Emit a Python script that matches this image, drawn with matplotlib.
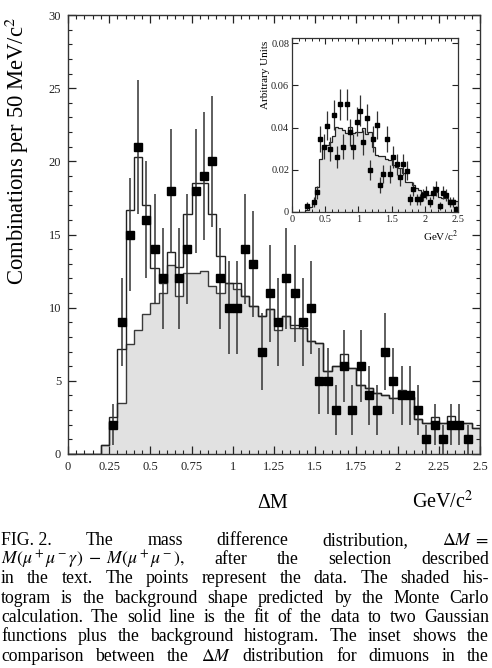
import matplotlib
matplotlib.use('agg')
import matplotlib.pyplot as plt
from matplotlib.ticker import MultipleLocator, FuncFormatter
import numpy as np

plt.rcParams['font.family'] = ['Liberation Serif', 'DejaVu Serif']
plt.rcParams['mathtext.fontset'] = 'stix'

# ---- main plot data (50 MeV bins from 0 to 2.5 GeV) ----
edges = np.linspace(0, 2.5, 51)

# background (shaded histogram)
background = [0, 0, 0, 0, 0.6, 2.2, 3.5, 7.5, 8.5, 9.6,
              10.3, 11.0, 12.9, 10.8, 12.4, 12.4, 12.5, 11.5, 11.0, 11.7,
              11.3, 10.8, 10.1, 9.4, 9.9, 8.5, 9.4, 8.6, 8.6, 7.7,
              7.6, 5.7, 6.0, 6.0, 5.9, 4.7, 4.5, 4.2, 4.0, 3.85,
              3.9, 3.9, 2.4, 2.1, 2.1, 2.1, 2.1, 2.1, 2.1, 1.8]

# fit = background + two gaussians (solid line)
fit = [0, 0, 0, 0, 0.6, 2.5, 7.2, 16.7, 20.3, 17.0,
       12.7, 11.7, 13.8, 12.8, 16.4, 18.5, 18.5, 16.4, 13.5, 11.7,
       11.7, 10.8, 10.1, 9.4, 9.9, 9.2, 9.4, 8.8, 8.6, 7.7,
       7.6, 5.7, 6.0, 6.8, 5.9, 4.7, 4.5, 4.2, 4.0, 3.85,
       4.4, 3.9, 2.4, 2.1, 2.5, 2.1, 2.6, 2.1, 2.1, 1.8]

# data points
data_x = [0.275, 0.325, 0.375, 0.425, 0.475, 0.525, 0.575, 0.625, 0.675, 0.725,
          0.775, 0.825, 0.875, 0.925, 0.975, 1.025, 1.075, 1.125, 1.175, 1.225,
          1.275, 1.325, 1.375, 1.425, 1.475, 1.525, 1.575, 1.625, 1.675, 1.725,
          1.775, 1.825, 1.875, 1.925, 1.975, 2.025, 2.075, 2.125, 2.175, 2.225,
          2.275, 2.325, 2.375, 2.425]
data_y = [2, 9, 15, 21, 16, 14, 12, 18, 12, 14,
          18, 19, 20, 12, 10, 10, 14, 13, 7, 11,
          9, 12, 11, 9, 10, 5, 5, 3, 6, 3,
          6, 4, 3, 7, 5, 4, 4, 3, 1, 2,
          1, 2, 2, 1]

# ---- inset data ----
inset_bg = [0, 0, 0, 0, 0.001, 0.0025, 0.0045, 0.012, 0.025, 0.031,
            0.032, 0.033, 0.036, 0.0405, 0.040, 0.039, 0.0375, 0.0405, 0.0375, 0.038,
            0.038, 0.040, 0.037, 0.038, 0.031, 0.027, 0.0266, 0.0266, 0.025, 0.0247,
            0.0223, 0.0215, 0.0207, 0.0183, 0.0144, 0.0144, 0.0128, 0.0112, 0.0105, 0.0097,
            0.0081, 0.0081, 0.0097, 0.0097, 0.0073, 0.0065, 0.0065, 0.0057, 0.0057, 0.005]

inset_x = [0.225, 0.325, 0.375, 0.425, 0.475, 0.525, 0.575, 0.625, 0.675, 0.725,
           0.775, 0.825, 0.875, 0.925, 0.975, 1.025, 1.075, 1.125, 1.175, 1.225,
           1.275, 1.325, 1.375, 1.425, 1.475, 1.525, 1.575, 1.625, 1.675, 1.725,
           1.775, 1.825, 1.875, 1.925, 1.975, 2.025, 2.075, 2.125, 2.175, 2.225,
           2.275, 2.325, 2.375, 2.425, 2.475]
inset_y = [0.0028, 0.0049, 0.0093, 0.0345, 0.031, 0.041, 0.0297, 0.046, 0.026, 0.051,
           0.031, 0.051, 0.0378, 0.031, 0.0428, 0.048, 0.033, 0.0444, 0.0198, 0.0345,
           0.0413, 0.0128, 0.018, 0.0345, 0.018, 0.026, 0.0226, 0.0164, 0.0226, 0.0196,
           0.006, 0.0109, 0.006, 0.006, 0.008, 0.0092, 0.0049, 0.0092, 0.011, 0.0028,
           0.0092, 0.008, 0.0049, 0.0049, 0.0015]
inset_weight = 0.0011  # weight of one entry in the inset (poisson errors)

W, H = 492, 668
fig = plt.figure(figsize=(W / 100, H / 100), dpi=100)

# ---- main axes ----
ax = fig.add_axes([68 / W, 1 - 454 / H, 412 / W, 439 / H])
ax.stairs(background, edges, fill=True, color='#e1e1e1', lw=0)
ax.stairs(background, edges, color='#3a3a3a', lw=1.0)
ax.stairs(fit, edges, color='#222222', lw=1.0)
ax.errorbar(data_x, data_y, yerr=np.sqrt(data_y), fmt='s', color='black',
            ms=5.6, ecolor='#333333', elinewidth=1.1, capsize=0)

ax.set_xlim(0, 2.5)
ax.set_ylim(0, 30)
ax.xaxis.set_major_locator(MultipleLocator(0.25))
ax.xaxis.set_minor_locator(MultipleLocator(0.05))
ax.yaxis.set_major_locator(MultipleLocator(5))
ax.yaxis.set_minor_locator(MultipleLocator(1))
ax.xaxis.set_major_formatter(FuncFormatter(lambda v, p: '%g' % v))
ax.tick_params(which='both', direction='in', top=True, right=True,
               labelsize=9, colors='#222222', pad=5)
ax.tick_params(which='major', length=6, width=0.9)
ax.tick_params(which='minor', length=3, width=0.8)
for s in ax.spines.values():
    s.set_color('#333333')
    s.set_linewidth(1.0)

fig.text(17 / W, 1 - 17 / H, 'Combinations per 50 MeV/c$^2$', rotation=90,
         ha='center', va='top', fontsize=16.3)
fig.text(273 / W, 1 - 508 / H, '\u0394M', ha='center', va='baseline', fontsize=14.5)
fig.text(443 / W, 1 - 508 / H, 'GeV/c$^2$', ha='center', va='baseline', fontsize=14.5)

# ---- inset ----
axi = fig.add_axes([292 / W, 1 - 212 / H, 166 / W, 174 / H])
axi.stairs(inset_bg, edges, fill=True, color='#e1e1e1', lw=0)
axi.stairs(inset_bg, edges, color='#222222', lw=0.9)
axi.errorbar(inset_x, inset_y, yerr=np.sqrt(np.array(inset_y) * inset_weight),
             fmt='s', color='black', ms=3.2, ecolor='#333333', elinewidth=0.9, capsize=0)
axi.set_xlim(0, 2.5)
axi.set_ylim(0, 0.0825)
axi.xaxis.set_major_locator(MultipleLocator(0.5))
axi.xaxis.set_minor_locator(MultipleLocator(0.1))
axi.yaxis.set_major_locator(MultipleLocator(0.02))
axi.xaxis.set_major_formatter(FuncFormatter(lambda v, p: '%g' % v))
axi.yaxis.set_major_formatter(FuncFormatter(lambda v, p: '%g' % v))
axi.tick_params(which='both', direction='in', top=True, right=True,
                labelsize=7.5, colors='#222222', pad=2)
axi.tick_params(which='major', length=4, width=0.8)
axi.tick_params(which='minor', length=2, width=0.7)
for s in axi.spines.values():
    s.set_color('#333333')
    s.set_linewidth(0.9)
axi.text(-0.16, 0.985, 'Arbitrary Units', transform=axi.transAxes, rotation=90,
         ha='center', va='top', fontsize=8)
axi.text(1.0, -0.1, 'GeV/c$^2$', transform=axi.transAxes, ha='right', va='top',
         fontsize=8)

# ---- caption (justified lines, '~' keeps words together) ----
caption = [
    'FIG.~2. The mass difference distribution, $\\Delta{}M\\;=$',
    '$M(\\mu^+\\mu^-\\gamma)\\;-\\;M(\\mu^+\\mu^-),$ after the selection described',
    'in the text. The points represent the data. The shaded his-',
    'togram is the background shape predicted by the Monte Carlo',
    'calculation. The solid line is the fit of the data to two Gaussian',
    'functions plus the background histogram. The inset shows the',
    'comparison between the $\\Delta{}M$ distribution for dimuons in the',
]
baselines = [545, 564, 583, 603, 622, 641, 661]

renderer = fig.canvas.get_renderer()
x_left, x_right = 1, 489
for line, yb in zip(caption, baselines):
    words = [w.replace('~', ' ') for w in line.split()]
    texts = [fig.text(0, 1 - yb / H, w, fontsize=12.8, va='baseline', ha='left')
             for w in words]
    widths = [t.get_window_extent(renderer).width for t in texts]
    gap = max(2.0, (x_right - x_left - sum(widths)) / (len(words) - 1))
    x = x_left
    for t, w in zip(texts, widths):
        t.set_x(x / W)
        x += w + gap

fig.savefig('out.png', dpi=100, facecolor='white')
